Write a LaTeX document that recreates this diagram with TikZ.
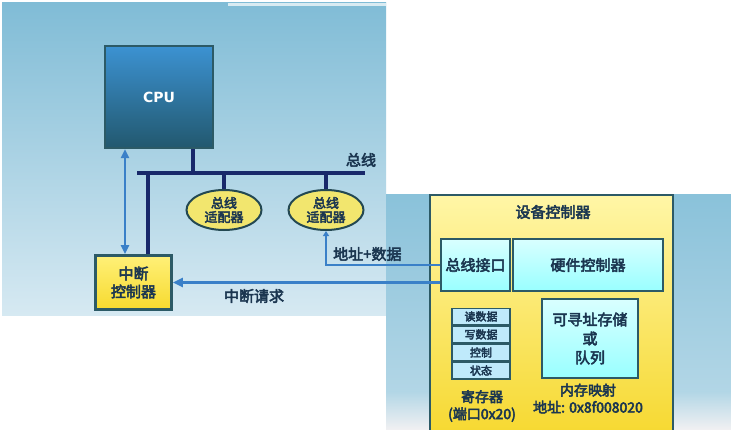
\documentclass[tikz,border=0pt]{standalone}
\usepackage{fontspec}
\newfontfamily\cjk[FakeBold=3.5]{Noto Sans CJK SC}
\setsansfont{DejaVu Sans}
\usetikzlibrary{arrows.meta,shapes.geometric}
\definecolor{bus}{HTML}{18286A}
\definecolor{arr}{HTML}{3A80C8}
\definecolor{edge}{HTML}{2C5A66}
\definecolor{txt}{HTML}{1B3650}
\definecolor{ytop}{HTML}{FFF6A6}
\definecolor{ybot}{HTML}{F6D82E}
\tikzset{
  ybox/.style={draw=edge,line width=2.8pt,top color=ytop,bottom color=ybot},
  cbox/.style={draw=edge,line width=2.2pt,top color=cyan!15!white,bottom color=cyan!40!white,text=txt,font=\cjk\fontsize{15}{17}\selectfont},
  adapter/.style={ellipse,draw=edge!80!black,line width=2pt,fill={rgb,255:red,242;green,230;blue,110},minimum width=75pt,minimum height=40pt,inner sep=0pt,align=center,text=txt,font=\cjk\fontsize{13}{14}\selectfont},
  busline/.style={bus,line width=3.4pt},
  arrline/.style={arr,line width=2.6pt},
  lbl/.style={text=txt,font=\cjk\fontsize{15}{17}\selectfont,align=center,inner sep=0pt},
  regrow/.style={draw=edge,line width=1.8pt,fill=cyan!25!white,minimum width=58pt,minimum height=16.2pt,inner sep=0pt,text=txt,font=\cjk\fontsize{11}{12}\selectfont}
}
\begin{document}
\begin{tikzpicture}[x=1pt,y=-1pt]
\useasboundingbox (0,0) rectangle (731,429);
\fill[white] (0,0) rectangle (731,429);
% left panel background
\shade[top color={rgb,255:red,128;green,188;blue,214},bottom color={rgb,255:red,214;green,233;blue,242}] (2,2) rectangle (386,315);
\fill[white,opacity=0.7] (228,3) rectangle (386,6);
% right panel background
\shade[top color={rgb,255:red,138;green,194;blue,218},bottom color={rgb,255:red,178;green,214;blue,230}] (386,194) rectangle (731,392);
\shade[top color={rgb,255:red,178;green,214;blue,230},bottom color={rgb,255:red,240;green,240;blue,242}] (386,391.5) rectangle (731,429);

% CPU
\node[draw=edge,line width=2.2pt,top color={rgb,255:red,60;green,146;blue,210},bottom color={rgb,255:red,34;green,88;blue,110},minimum width=108pt,minimum height=102pt,inner sep=0pt,text=white,font=\sffamily\bfseries\fontsize{14}{16}\selectfont] (cpu) at (159,97) {CPU};

% bus
\coordinate (busL) at (137,173);
\coordinate (busR) at (365,173);
\draw[busline] (busL) -- (busR);
\node[lbl,anchor=south] (buslbl) at (361,167) {总线};
\draw[busline] (cpu.south -| 193,0) -- (busL -| 193,0);

% adapters
\node[adapter] (ad1) at (224,210) {总线\\适配器};
\node[adapter] (ad2) at (326,210) {总线\\适配器};
\draw[busline] (ad1.north) -- (ad1.north |- busL);
\draw[busline] (ad2.north) -- (ad2.north |- busL);

% interrupt controller
\node[draw=edge,line width=2.8pt,top color={rgb,255:red,255;green,240;blue,120},bottom color={rgb,255:red,246;green,218;blue,46},minimum width=76pt,minimum height=54pt,inner sep=0pt,align=center,text=txt,font=\cjk\fontsize{15}{18}\selectfont] (ic) at (133.5,282.5) {中断\\控制器};
\draw[busline] (ic.north -| 148,0) -- (busL -| 148,0);
\draw[arrline,{Triangle[width=8pt,length=9pt]}-{Triangle[width=8pt,length=9pt]}] (cpu.south -| 125,0) -- (ic.north -| 125,0);

% device controller
\node[ybox,minimum width=243pt,minimum height=245pt,inner sep=0pt] (dc) at (551.5,317.5) {};
\node[lbl] (dct) at (553,212) {设备控制器};
\node[cbox,minimum width=69pt,minimum height=52pt,inner sep=0pt] (bi) at (475.5,265) {总线接口};
\node[cbox,minimum width=150pt,minimum height=52pt,inner sep=0pt] (hc) at (588,265) {硬件控制器};
\node[cbox,minimum width=96pt,minimum height=79pt,inner sep=0pt,align=center,font=\cjk\fontsize{15}{19}\selectfont] (as) at (590,338.5) {可寻址存储\\或\\队列};
\node[regrow] (r1) at (481,316.5) {读数据};
\node[regrow,anchor=north] (r2) at (r1.south) {写数据};
\node[regrow,anchor=north] (r3) at (r2.south) {控制};
\node[regrow,anchor=north] (r4) at (r3.south) {状态};
\node[lbl,font=\cjk\fontsize{14}{17}\selectfont] (reglbl) at (482,406) {寄存器\\(端口0x20)};
\node[lbl,font=\cjk\fontsize{14}{17}\selectfont] (memlbl) at (588,398.5) {内存映射\\地址: 0x8f008020};

% address + data
\draw[arrline,line width=2.2pt,{Triangle[width=6pt,length=5pt]}-] (ad2.south) |- (bi.west);
\node[lbl,anchor=west] (adlbl) at (333,254) {地址+数据};

% interrupt request
\draw[arrline,-{Triangle[width=9pt,length=10pt]}] (bi.west |- ic.east) -- (ic.east);
\node[lbl] (irlbl) at (254,296) {中断请求};
\end{tikzpicture}
\end{document}
